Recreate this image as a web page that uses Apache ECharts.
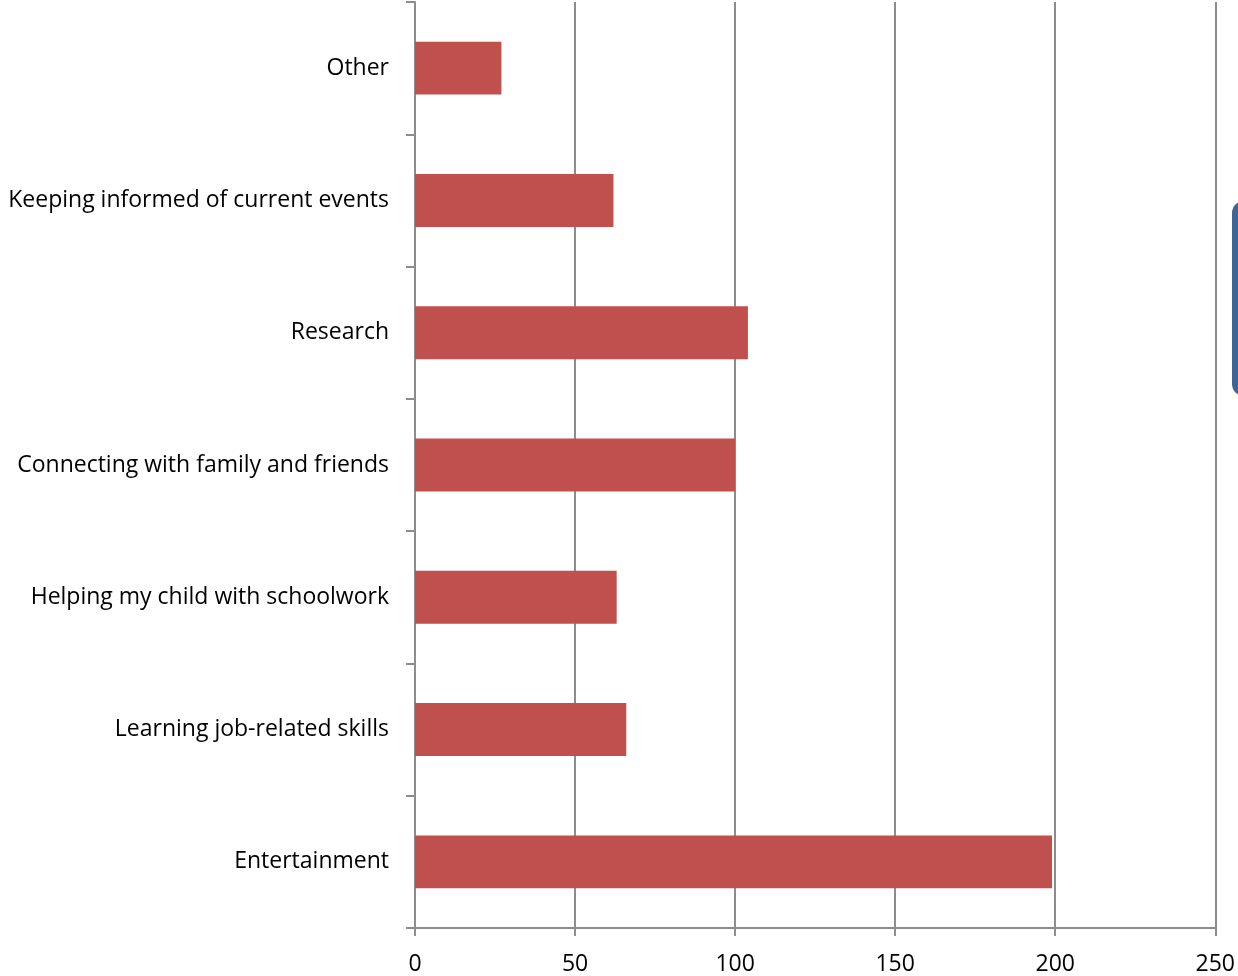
<!DOCTYPE html>
<html><head><meta charset="utf-8">
<script src="https://cdn.jsdelivr.net/npm/echarts@6/dist/echarts.min.js"></script>
<style>html,body{margin:0;padding:0;background:#fff}#c{width:1238px;height:976px}</style>
</head><body><div id="c"></div>
<script>
const categories = ["Entertainment","Learning job-related skills","Helping my child with schoolwork","Connecting with family and friends","Research","Keeping informed of current events","Other"];
const values = [199, 66, 63, 100, 104, 62, 27];
const xTicks = [0, 50, 100, 150, 200, 250];

const chart = echarts.init(document.getElementById('c'));
chart.setOption({
  animation: false,
  grid: {left: 415, right: 20, top: 2, bottom: 48, containLabel: false},
  xAxis: {
    type: 'value', min: xTicks[0], max: xTicks[xTicks.length-1], interval: 50,
    axisLine: {show: true, lineStyle: {color: '#8c8c8c', width: 2}},
    axisTick: {show: true, length: 8, lineStyle: {color: '#8c8c8c', width: 2}},
    splitLine: {show: true, lineStyle: {color: '#8c8c8c', width: 2}},
    axisLabel: {color: '#000', fontFamily: 'Open Sans', fontSize: 23, margin: 25}
  },
  yAxis: {
    type: 'category', data: categories,
    axisLine: {show: true, lineStyle: {color: '#8c8c8c', width: 2}},
    axisTick: {show: true, length: 9, inside: false, lineStyle: {color: '#8c8c8c', width: 2}},
    axisLabel: {color: '#000', fontFamily: 'Open Sans', fontSize: 23, margin: 26}
  },
  series: [{
    type: 'bar', data: values, barCategoryGap: '60%',
    itemStyle: {color: '#c0504d'}
  }],
  graphic: [{
    type: 'rect', left: 1232, top: 201,
    shape: {width: 30, height: 195, r: 12},
    style: {fill: '#3d6597'}
  }]
});
</script></body></html>
